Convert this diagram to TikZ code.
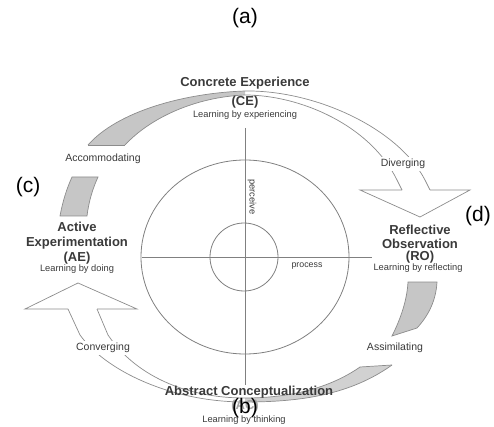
\documentclass[tikz,border=0pt]{standalone}
\usepackage{fontspec}
\setmainfont{Liberation Sans}
\definecolor{bandgray}{HTML}{C6C6C6}
\definecolor{linegray}{HTML}{8C8C8C}
\definecolor{txtgray}{HTML}{3A3A3A}

\begin{document}
\begin{tikzpicture}[x=1pt, y=-1pt,
		rim/.style={draw=linegray, line width=0.7pt},
		axis/.style={draw=gray, line width=0.8pt},
		mode/.style={font=\fontsize{13}{15}\selectfont\bfseries, text=txtgray, inner sep=0pt},
		how/.style={font=\fontsize{9.3}{11}\selectfont, text=txtgray, inner sep=0pt},
		stage/.style={font=\fontsize{10.5}{12}\selectfont, text=txtgray, fill=white, inner sep=2pt},
		tag/.style={font=\fontsize{21}{24}\selectfont, inner sep=0pt}]
		\useasboundingbox (0,0) rectangle (494,427);
		\coordinate (o) at (245,257);
		\fill[bandgray] (88,145) .. controls (118,111) and (185,93) .. (245,91) -- (245,95) .. controls (195,97) and (150,118) .. (125,145) -- cycle;
		\draw[rim] (88,145) .. controls (118,111) and (185,93) .. (245,91) .. controls (315,90) and (398,128) .. (425,180) -- (430,190);
		\draw[rim] (125,145) .. controls (150,118) and (195,97) .. (245,95) .. controls (300,95) and (370,125) .. (397,180) -- (402,190);
		\draw[rim] (88,145) -- (125,145);
		\draw[rim] (402,190) -- (360,190) -- (420,217) -- (470,190) -- (430,190);
		\draw[rim, fill=bandgray] (408,282) -- (437,282) .. controls (436,300) and (429,315) .. (417,328) -- (392,336) .. controls (401,318) and (407,300) .. (408,282) -- cycle;
		\fill[bandgray!80] (392,365) .. controls (350,395) and (300,402) .. (245,402) -- (245,398) .. controls (290,398) and (330,388) .. (360,367) -- cycle;
		\draw[rim] (392,365) .. controls (350,395) and (300,402) .. (245,402) .. controls (170,402) and (105,370) .. (80,335) -- (68,309);
		\draw[rim] (360,367) .. controls (330,388) and (290,398) .. (245,398) .. controls (185,398) and (135,375) .. (108,335) -- (97,309);
		\draw[rim] (360,367) -- (392,365);
		\draw[rim] (68,309) -- (25,309) -- (78,283) -- (137,309) -- (97,309);
		\draw[rim, fill=bandgray] (60,216) .. controls (63,200) and (67,188) .. (72,177) -- (98,177) .. controls (93,188) and (89,200) .. (87,216) -- cycle;
		\draw[axis] (o) ellipse [x radius=104, y radius=97];
		\draw[axis] (244,257) circle [radius=34];
		\draw[axis] (245,128) -- (245,385);
		\draw[axis] (142,257) -- (372,257);
		\node[how, rotate=-90] (perceive) at (252,197) {perceive};
		\node[how, font=\fontsize{8.8}{10}\selectfont] (process) at (307,266) {process};
		\node[tag] (a) at (245,18) {(a)};
		\node[mode] (ce1) at (245,83) {Concrete Experience};
		\node[mode] (ce2) at (245,102) {(CE)};
		\node[how] (ce3) at (245,115) {Learning by experiencing};
		\foreach \t/\y [count=\i] in {Active/227, Experimentation/243, {(AE)}/258}
			\node[mode] (ae\i) at (77,\y) {\t};
		\node[how] (ae4) at (77,269) {Learning by doing};
		\foreach \t/\y [count=\i] in {Reflective/230, Observation/244, {(RO)}/257}
			\node[mode] (ro\i) at (420,\y) {\t};
		\node[how] (ro4) at (418,268) {Learning by reflecting};
		\node[mode] (ac1) at (249,392) {Abstract Conceptualization};
		\node[mode, text=txtgray!45] (ac2) at (245,406) {(AC)};
		\node[how] (ac3) at (244,420) {Learning by thinking};
		\node[tag] (b) at (245,408) {(b)};
		\node[tag] (c) at (28,187) {(c)};
		\node[tag] (d) at (478,216) {(d)};
		\node[stage] (acc) at (103,159) {Accommodating};
		\node[stage] (div) at (403,164) {Diverging};
		\node[stage] (con) at (103,348) {Converging};
		\node[stage] (ass) at (395,348) {Assimilating};
	\end{tikzpicture}
\end{document}
